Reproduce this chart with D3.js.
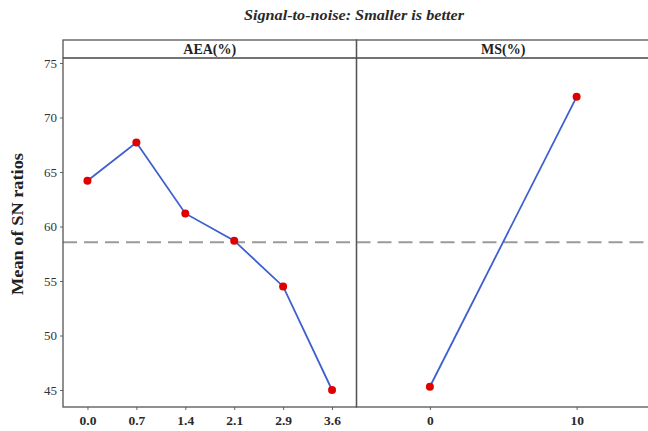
<!DOCTYPE html>
<html><head><meta charset="utf-8">
<script src="https://cdn.jsdelivr.net/npm/d3@7"></script>
<style>body{margin:0;background:#fff}svg{display:block}text{font-family:"Liberation Serif","Times New Roman",Times,serif}</style>
</head><body>
<svg id="c" width="648" height="431"></svg>
<script>
const title = "Signal-to-noise: Smaller is better";
const yLabel = "Mean of SN ratios";
const panelNames = ["AEA(%)", "MS(%)"];
const aeaLevels = ["0.0", "0.7", "1.4", "2.1", "2.9", "3.6"];
const aeaValues = [64.2, 67.7, 61.2, 58.7, 54.5, 45.0];
const msLevels = ["0", "10"];
const msValues = [45.3, 71.9];
const yTicks = [45, 50, 55, 60, 65, 70, 75];

(function () {
const svg = d3.select("#c");
const frameTop = 40, stripH = 18, frameBottom = 407, frameLeft = 63, panelW = 293.5;
const y = d3.scaleLinear().domain([45, 75]).range([390, 63]);
const grand = d3.mean(aeaValues);

const panels = [
  {name: panelNames[0], levels: aeaLevels, values: aeaValues},
  {name: panelNames[1], levels: msLevels, values: msValues}
];

svg.append("text").attr("x", 354).attr("y", 20).attr("text-anchor", "middle")
  .attr("font-size", 14).attr("font-style", "italic").attr("font-weight", "bold")
  .attr("textLength", 220).attr("lengthAdjust", "spacingAndGlyphs")
  .attr("fill", "#2a2a2a").text(title);

svg.append("text").attr("transform", `translate(23,224) rotate(-90)`)
  .attr("text-anchor", "middle").attr("font-size", 16).attr("font-weight", "bold")
  .attr("textLength", 142).attr("lengthAdjust", "spacingAndGlyphs")
  .attr("fill", "#222").text(yLabel);

const yAxis = svg.append("g").attr("transform", `translate(${frameLeft},0)`)
  .call(d3.axisLeft(y).tickValues(yTicks).tickSize(3).tickPadding(3));
yAxis.select(".domain").remove();
yAxis.selectAll("line").attr("stroke", "#666");
yAxis.selectAll("text").attr("font-size", 13).attr("fill", "#333");

panels.forEach((p, i) => {
  const x0 = frameLeft + i * panelW;
  const g = svg.append("g");
  const x = d3.scalePoint().domain(p.levels).range([x0, x0 + panelW]).padding(0.5);

  g.append("line").attr("x1", x0).attr("x2", x0 + panelW)
    .attr("y1", y(grand)).attr("y2", y(grand))
    .attr("stroke", "#9a9a9a").attr("stroke-width", 2).attr("stroke-dasharray", "14,7");

  g.append("path").datum(p.values.map((v, j) => [p.levels[j], v]))
    .attr("fill", "none").attr("stroke", "#3d5fd0").attr("stroke-width", 1.8)
    .attr("d", d3.line().x(d => x(d[0])).y(d => y(d[1])));

  g.selectAll("circle").data(p.values).join("circle")
    .attr("cx", (d, j) => x(p.levels[j])).attr("cy", d => y(d))
    .attr("r", 4).attr("fill", "#e00000");

  const xa = g.append("g").attr("transform", `translate(0,${frameBottom})`)
    .call(d3.axisBottom(x).tickSize(3).tickPadding(5));
  xa.select(".domain").remove();
  xa.selectAll("line").attr("stroke", "#666");
  xa.selectAll("text").attr("font-size", 13.5).attr("fill", "#2a2a2a").attr("font-weight", "bold");

  g.append("rect").attr("x", x0).attr("y", frameTop).attr("width", panelW).attr("height", frameBottom - frameTop)
    .attr("fill", "none").attr("stroke", "#555").attr("stroke-width", 1.3);
  g.append("line").attr("x1", x0).attr("x2", x0 + panelW).attr("y1", frameTop + stripH).attr("y2", frameTop + stripH)
    .attr("stroke", "#444").attr("stroke-width", 1.3);
  g.append("text").attr("x", x0 + panelW / 2).attr("y", frameTop + 14).attr("text-anchor", "middle")
    .attr("font-size", 14).attr("font-weight", "bold").attr("fill", "#222").text(p.name);
});
})();
</script>
</body></html>
